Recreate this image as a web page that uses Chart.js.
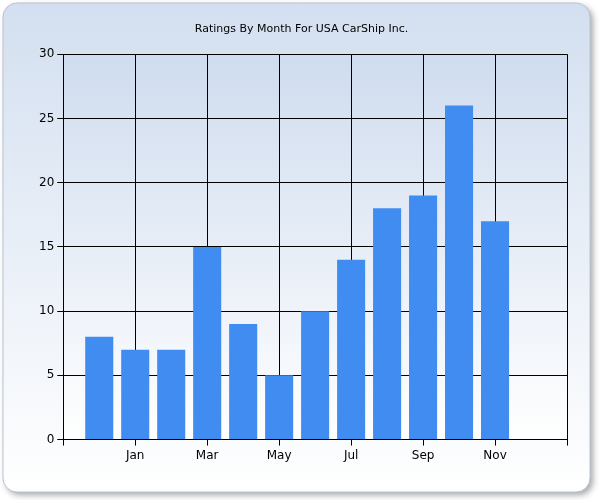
<!DOCTYPE html>
<html><head><meta charset="utf-8">
<script src="https://cdn.jsdelivr.net/npm/chart.js@4/dist/chart.umd.min.js"></script>
<style>html,body{margin:0;padding:0;background:#fff}#wrap{width:600px;height:500px}</style>
</head><body><div id="wrap"><canvas id="c"></canvas></div>
<script>
// bar positions on the 0..14 axis, and their ratings
var positions = [1, 2, 3, 4, 5, 6, 7, 8, 9, 10, 11, 12];
var ratings = [8, 7, 7, 15, 9, 5, 10, 14, 18, 19, 26, 17];
var tickLabels = { 2: 'Jan', 4: 'Mar', 6: 'May', 8: 'Jul', 10: 'Sep', 12: 'Nov' };
var chartTitle = 'Ratings By Month For USA CarShip Inc.';

var backdrop = {
  id: 'backdrop',
  beforeDraw: function (chart) {
    var ctx = chart.ctx, a = chart.chartArea;
    ctx.save();
    // outer panel with shadow
    ctx.shadowColor = 'rgba(0,0,0,0.35)';
    ctx.shadowBlur = 6; ctx.shadowOffsetX = 3; ctx.shadowOffsetY = 3;
    var x = 3, y = 3, w = 587, h = 489, r = 14;
    ctx.beginPath();
    ctx.roundRect(x, y, w, h, r);
    var g = ctx.createLinearGradient(0, y, 0, y + h);
    g.addColorStop(0, '#d3dff0'); g.addColorStop(1, '#ffffff');
    ctx.fillStyle = g; ctx.fill();
    ctx.shadowColor = 'transparent';
    ctx.strokeStyle = '#b8c4d4'; ctx.lineWidth = 1; ctx.stroke();
    // plot area
    var pg = ctx.createLinearGradient(0, a.top, 0, a.bottom);
    pg.addColorStop(0, '#cfdcef'); pg.addColorStop(1, '#ffffff');
    ctx.fillStyle = pg;
    ctx.fillRect(a.left, a.top, a.right - a.left, a.bottom - a.top);
    ctx.restore();
  }
};

new Chart(document.getElementById('c'), {
  type: 'bar',
  data: {
    datasets: [{
      data: positions.map(function (p, i) { return { x: p, y: ratings[i] }; }),
      backgroundColor: '#418cf0',
      borderWidth: 0,
      barPercentage: 0.78,
      categoryPercentage: 1
    }]
  },
  options: {
    responsive: true,
    maintainAspectRatio: false,
    animation: false,
    layout: { padding: { left: 36, right: 33, top: 19, bottom: 34 } },
    plugins: {
      legend: { display: false },
      tooltip: { enabled: false },
      title: {
        display: true, text: chartTitle, color: '#000',
        font: { family: 'DejaVu Sans', size: 11, weight: 'normal' }, padding: { top: 4, bottom: 18 }
      }
    },
    scales: {
      x: {
        type: 'linear', min: 0, max: 14, offset: false,
        grid: { color: '#000', tickLength: 6, drawTicks: true, offset: false },
        border: { color: '#000' },
        ticks: {
          stepSize: 2, color: '#000', font: { family: 'DejaVu Sans', size: 12 },
          callback: function (v) { return tickLabels[v] || ''; }
        }
      },
      y: {
        min: 0, max: 30,
        grid: { color: '#000', tickLength: 6 },
        border: { color: '#000' },
        ticks: { stepSize: 5, color: '#000', font: { family: 'DejaVu Sans', size: 12 } }
      }
    }
  },
  plugins: [backdrop]
});
</script></body></html>
